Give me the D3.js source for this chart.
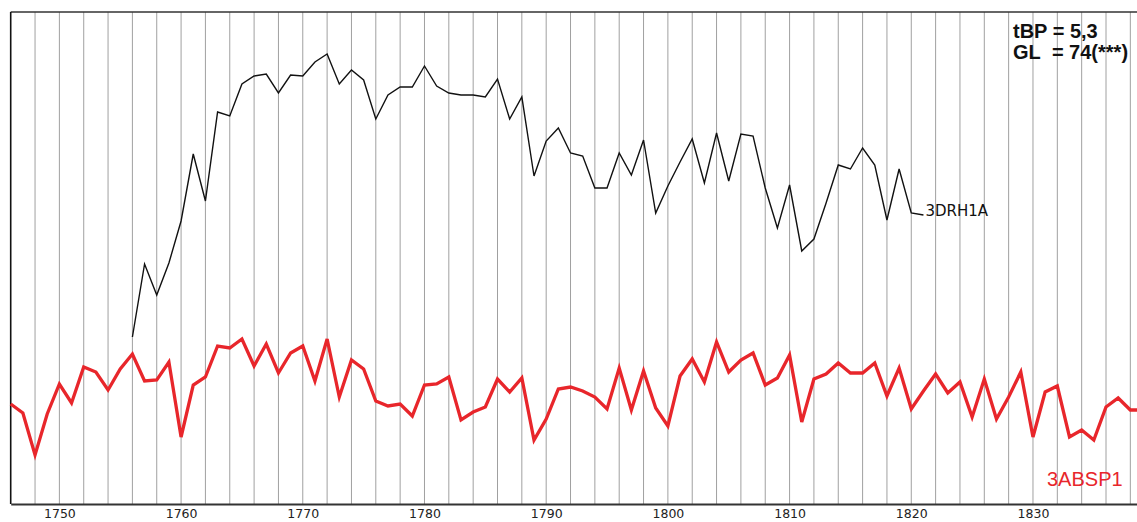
<!DOCTYPE html>
<html>
<head>
<meta charset="utf-8">
<script src="https://cdn.jsdelivr.net/npm/d3@7"></script>
<style>
  body { margin: 0; background: #fff; }
  svg { display: block; }
</style>
</head>
<body>
<svg id="chart"></svg>
<script>
// years of the two ring-width series (index units)
const blackStart = 1756;
const blackValues = [83.5, 120, 104.5, 120.5, 141.5, 175, 151.5, 196, 194, 210,
  214, 215, 205.5, 214.5, 214, 221, 225, 210, 217, 212,
  192.5, 204.5, 208.5, 208.5, 219, 209, 205.5, 204.5, 204.5, 203.5,
  212.5, 192.5, 203.5, 164, 181.5, 188, 175.5, 174, 158, 158,
  175.5, 164.5, 182, 145.5, 159, 171, 182.5, 160.5, 185.5, 161.5,
  185, 184, 158, 138, 159.5, 126.5, 132.5, 150.5, 169.5, 167.5,
  178, 169.5, 142, 167.5, 145.5, 144.5];

const redStart = 1746;
const redValues = [50, 45.5, 24.5, 45, 60, 50.5, 68.5, 66, 57, 67.5,
  75, 61.5, 62, 71, 33.5, 59.5, 63.5, 79, 78, 82.5,
  69, 80, 65.5, 75.5, 79, 61.5, 82.5, 53.5, 72, 67.5,
  51.5, 49, 50, 44, 59.5, 60, 63.5, 42, 46, 48.5,
  62.5, 56, 63, 32, 42.5, 57.5, 58.5, 56.5, 53.5, 47.5,
  68, 47, 66.5, 48, 39, 64, 72.5, 61, 81, 66,
  72, 75.5, 59.5, 63, 74.5, 41, 62.5, 65, 70.5, 65.5,
  65.5, 70.5, 54, 68, 47.5, 56.5, 65, 55.5, 61, 43.5,
  62.5, 42.5, 53.5, 66, 33.5, 56, 59, 33.5, 37, 32,
  48.5, 53, 47, 47];

const tickYears = [1750, 1760, 1770, 1780, 1790, 1800, 1810, 1820, 1830];
const gridYears = d3.range(1748, 1840, 2);
const blackName = "3DRH1A";
const redName = "3ABSP1";
const statLines = ["tBP = 5,3", "GL\u00a0 = 74(***)"];

const width = 1137, height = 522;
const plotLeft = 10.7, plotTop = 12, plotBottom = 504;

const svg = d3.select("#chart").attr("width", width).attr("height", height);

const x = d3.scaleLinear().domain([1746, 1839]).range([plotLeft, plotLeft + 93 * 12.17]);
const y = d3.scaleLinear().domain([0, 246]).range([plotBottom, plotTop]);

// vertical grid every two years
svg.append("g")
  .selectAll("line")
  .data(gridYears)
  .enter().append("line")
    .attr("x1", d => x(d)).attr("x2", d => x(d))
    .attr("y1", plotTop).attr("y2", plotBottom)
    .attr("stroke", "#a0a0a0")
    .attr("stroke-width", 1);

// frame: top line and left axis
svg.append("line")
  .attr("x1", plotLeft).attr("x2", width)
  .attr("y1", plotTop).attr("y2", plotTop)
  .attr("stroke", "#333").attr("stroke-width", 1.6);
svg.append("line")
  .attr("x1", plotLeft).attr("x2", plotLeft)
  .attr("y1", plotTop).attr("y2", plotBottom)
  .attr("stroke", "#111").attr("stroke-width", 1.6);

// bottom axis
const xAxis = d3.axisBottom(x)
  .tickValues(tickYears)
  .tickFormat(d3.format("d"))
  .tickSize(0)
  .tickSizeOuter(0)
  .tickPadding(5.5);

const ax = svg.append("g")
  .attr("transform", `translate(0,${plotBottom})`)
  .call(xAxis);
ax.select(".domain").attr("stroke", "#333").attr("stroke-width", 1.8);
ax.selectAll("text")
  .attr("font-family", "DejaVu Sans")
  .attr("font-size", 12.5)
  .attr("fill", "#222");

const line = d3.line()
  .x(d => x(d.year))
  .y(d => y(d.value));

const blackData = blackValues.map((v, i) => ({ year: blackStart + i, value: v }));
const redData = redValues.map((v, i) => ({ year: redStart + i, value: v }));

svg.append("path")
  .datum(redData)
  .attr("d", line)
  .attr("fill", "none")
  .attr("stroke", "#e8262b")
  .attr("stroke-width", 3.3)
  .attr("stroke-linejoin", "miter");

svg.append("path")
  .datum(blackData)
  .attr("d", line)
  .attr("fill", "none")
  .attr("stroke", "#111")
  .attr("stroke-width", 1.4);

// series labels
const lastBlack = blackData[blackData.length - 1];
svg.append("text")
  .attr("x", x(lastBlack.year) + 2)
  .attr("y", y(lastBlack.value))
  .attr("dy", "0.05em")
  .attr("font-family", "DejaVu Sans")
  .attr("font-size", 15)
  .attr("fill", "#111")
  .text(blackName);

svg.append("text")
  .attr("x", 1047)
  .attr("y", 486)
  .attr("font-family", "Liberation Sans, Arial, sans-serif")
  .attr("font-size", 20)
  .attr("fill", "#e8262b")
  .text(redName);

// statistics box
svg.append("g")
  .selectAll("text")
  .data(statLines)
  .enter().append("text")
    .attr("x", 1013)
    .attr("y", (d, i) => 37.5 + i * 21.7)
    .attr("font-family", "Liberation Sans, Arial, sans-serif")
    .attr("font-weight", "bold")
    .attr("font-size", 20)
    .attr("fill", "#111")
    .text(d => d);
</script>
</body>
</html>
